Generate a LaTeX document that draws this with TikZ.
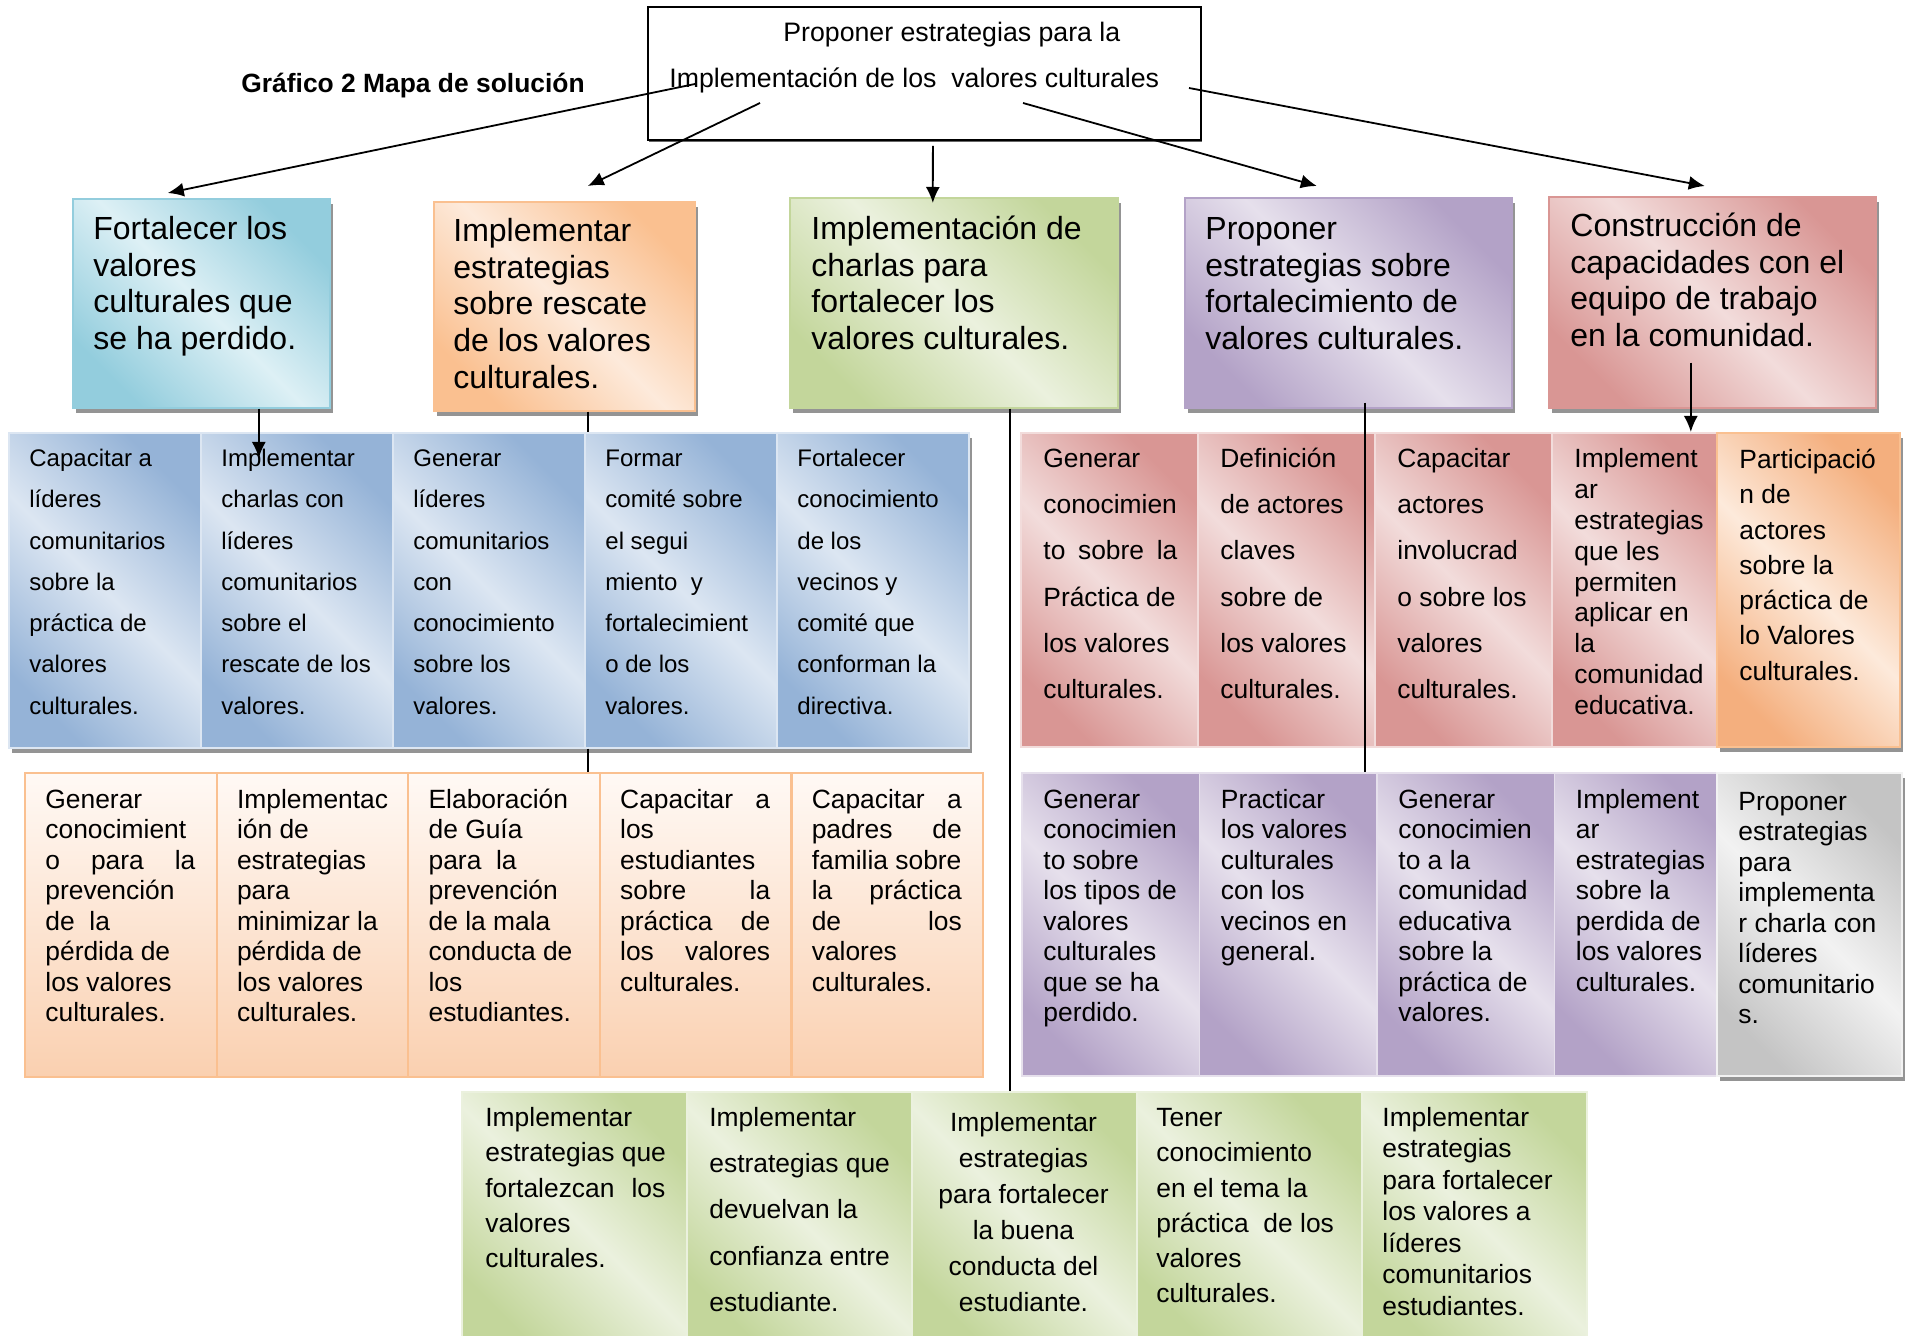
\documentclass[tikz,border=0pt]{standalone}
\usepackage{fontspec}
\setmainfont{Liberation Sans}
\usetikzlibrary{arrows.meta,shadows}

\definecolor{cyanD}{HTML}{93CDDD}
\definecolor{cyanL}{HTML}{DDF0F5}
\definecolor{orangeD}{HTML}{FAC090}
\definecolor{orangeL}{HTML}{FDEADB}
\definecolor{greenD}{HTML}{C3D69B}
\definecolor{greenL}{HTML}{EBF1DE}
\definecolor{purpleD}{HTML}{B3A2C7}
\definecolor{purpleL}{HTML}{E6E0EC}
\definecolor{redD}{HTML}{D99694}
\definecolor{redL}{HTML}{F2DCDB}
\definecolor{blueD}{HTML}{95B3D7}
\definecolor{blueL}{HTML}{DCE6F2}
\definecolor{grayD}{HTML}{C4C4C4}
\definecolor{grayL}{HTML}{F2F2F2}
\definecolor{peachD}{HTML}{FAD0B0}
\definecolor{peachL}{HTML}{FFF9F5}
\definecolor{peachB}{HTML}{FAC090}
\definecolor{tangD}{HTML}{F4AF7E}

\newcommand{\tstrut}{\rule{0pt}{1em}}
\newcommand{\jline}[2][75pt]{\makebox[#1][s]{#2}}

\tikzset{
  boxshadow/.style={drop shadow={shadow xshift=1.5pt,shadow yshift=-2.5pt,fill=black!42,opacity=1}},
  lvlone/.style 2 args={draw=#1, line width=0.8pt, top color=#1, bottom color=#1, middle color=#2,
    shading angle=-45, anchor=north west, inner sep=0pt, boxshadow},
  cell/.style 2 args={draw=#2, line width=0.8pt, top color=#1, bottom color=#1, middle color=#2,
    shading angle=-45, anchor=north west, inner sep=0pt},
  peachcell/.style={draw=peachB, line width=1.1pt, top color=peachL, bottom color=peachD,
    anchor=north west, inner sep=0pt},
  txt/.style={anchor=north west, inner sep=0pt, align=left},
  lvltxt/.style={txt, font=\fontsize{16}{18.35}\selectfont},
  rowtxt/.style={txt, font=\fontsize{13.2}{#1}\selectfont},
  conn/.style={line width=0.9pt}
}

\begin{document}
\begin{tikzpicture}[x=0.5pt,y=-0.5pt,>={Latex[length=8pt,width=7pt]}]
  \useasboundingbox (0,0) rectangle (1906,1336);

  \node[txt, font=\bfseries\fontsize{13.2}{15.8}\selectfont] (title) at (241,66) {\tstrut Gráfico 2 Mapa de solución};
  \node[draw, line width=0.9pt, fill=white, anchor=north west, inner sep=0pt, minimum width=276.5pt, minimum height=66.5pt,
    drop shadow={shadow xshift=0.5pt,shadow yshift=-1.3pt,fill=black!60,opacity=1}] (top) at (647,6) {};
  \node[txt, font=\fontsize{13.35}{23}\selectfont] (toptxt) at (669,14)
    {\tstrut\hspace*{57pt}Proponer estrategias para la\\Implementación de los\ \ valores culturales};

  \node[lvlone={cyanD}{cyanL}, minimum width=128.5pt, minimum height=104.5pt] (f1) at (72,198) {};
  \node[lvlone={orangeD}{orangeL}, minimum width=130.5pt, minimum height=104.5pt] (f2) at (433,201) {};
  \node[lvlone={greenD}{greenL}, minimum width=164pt, minimum height=105pt] (f3) at (789,197) {};
  \node[lvlone={purpleD}{purpleL}, minimum width=163.5pt, minimum height=105pt] (f4) at (1184,197) {};
  \node[lvlone={redD}{redL}, minimum width=163.5pt, minimum height=105.5pt] (f5) at (1548,196) {};
  \node[lvltxt] (ft1) at (93,207) {\tstrut Fortalecer los\\valores\\culturales que\\se ha perdido.};
  \node[lvltxt] (ft2) at (453,209) {\tstrut Implementar\\estrategias\\sobre rescate\\de los valores\\culturales.};
  \node[lvltxt] (ft3) at (811,207) {\tstrut Implementación de\\charlas para\\fortalecer los\\valores culturales.};
  \node[lvltxt] (ft4) at (1205,207) {\tstrut Proponer\\estrategias sobre\\fortalecimiento de\\valores culturales.};
  \node[lvltxt] (ft5) at (1570,204) {\tstrut Construcción de\\capacidades con el\\equipo de trabajo\\en la comunidad.};

  \foreach \t [count=\i] in {{Capacitar a\\líderes\\comunitarios\\sobre la\\práctica de\\valores\\culturales.},
      {Implementar\\charlas con\\líderes\\comunitarios\\sobre el\\rescate de los\\valores.},
      {Generar\\líderes\\comunitarios\\con\\conocimiento\\sobre los\\valores.},
      {Formar\\comité sobre\\el segui\\miento\ \ y\\fortalecimient\\o de los\\valores.},
      {Fortalecer\\conocimiento\\de los\\vecinos y\\comité que\\conforman la\\directiva.}}{
    \node[cell={blueD}{blueL}, boxshadow, minimum width=96pt, minimum height=157.5pt] (b\i) at ({8+192*(\i-1)},432) {};
    \node[txt, font=\fontsize{12}{20.65}\selectfont] (bt\i) at ({29+192*(\i-1)},442) {\tstrut\t};
  }

  \foreach \t/\ls [count=\i] in {{Generar\\conocimien\\\jline[67pt]{to sobre la}\\Práctica de\\los valores\\culturales.}/23.1,
      {Definición\\de actores\\claves\\sobre de\\los valores\\culturales.}/23.1,
      {Capacitar\\actores\\involucrad\\o sobre los\\valores\\culturales.}/23.1,
      {Implement\\ar\\estrategias\\que les\\permiten\\aplicar en\\la\\comunidad\\educativa.}/15.45}{
    \node[cell={redD}{redL}, minimum width=89pt, minimum height=157pt] (r\i) at ({1020+177*(\i-1)},432) {};
    \node[rowtxt=\ls] (rt\i) at ({1043+177*(\i-1)},440.6) {\tstrut\t};
  }
  \node[cell={tangD}{orangeL}, draw=orangeD, boxshadow, minimum width=91.5pt, minimum height=157pt] (r5) at (1716,432) {};
  \node[rowtxt=17.65] (rt5) at (1739,441.6) {\tstrut Participació\\n de\\actores\\sobre la\\práctica de\\lo Valores\\culturales.};

  \foreach \t [count=\i] in {{Generar\\conocimient\\\jline{o para la}\\prevención\\de\ \ la\\pérdida de\\los valores\\culturales.},
      {Implementac\\ión de\\estrategias\\para\\minimizar la\\pérdida de\\los valores\\culturales.},
      {Elaboración\\de Guía\\para\ \ la\\prevención\\de la mala\\conducta de\\los\\estudiantes.},
      {\jline{Capacitar a}\\los\\estudiantes\\\jline{sobre la}\\\jline{práctica de}\\\jline{los valores}\\culturales.},
      {\jline{Capacitar a}\\\jline{padres de}\\familia sobre\\\jline{la práctica}\\\jline{de los}\\valores\\culturales.}}{
    \node[peachcell, minimum width=95.8pt, minimum height=152pt] (p\i) at ({24+191.6*(\i-1)},772) {};
    \node[rowtxt=15.25] (pt\i) at ({45+191.6*(\i-1)},781.6) {\tstrut\t};
  }

  \foreach \t [count=\i] in {{Generar\\conocimien\\to sobre\\los tipos de\\valores\\culturales\\que se ha\\perdido.},
      {Practicar\\los valores\\culturales\\con los\\vecinos en\\general.},
      {Generar\\conocimien\\to a la\\comunidad\\educativa\\sobre la\\práctica de\\valores.},
      {Implement\\ar\\estrategias\\sobre la\\perdida de\\los valores\\culturales.}}{
    \node[cell={purpleD}{purpleL}, minimum width=89pt, minimum height=151.5pt] (q\i) at ({1021+177.5*(\i-1)},772) {};
    \node[rowtxt=15.25] (qt\i) at ({1043+177.5*(\i-1)},781.6) {\tstrut\t};
  }
  \node[cell={grayD}{grayL}, boxshadow, minimum width=92.5pt, minimum height=151.5pt] (q5) at (1716,772) {};
  \node[rowtxt=15.25] (qt5) at (1738,783.6) {\tstrut Proponer\\estrategias\\para\\implementa\\r charla con\\líderes\\comunitario\\s.};

  \foreach \i in {1,...,5}{
    \node[cell={greenD}{greenL}, minimum width=112.5pt, minimum height=127pt] (g\i) at ({461+225*(\i-1)},1091) {};
  }
  \node[rowtxt=17.65] (gt1) at (485,1099.6) {\tstrut Implementar\\estrategias que\\\jline[90pt]{fortalezcan los}\\valores\\culturales.};
  \node[rowtxt=23.1] (gt2) at (709,1099.6) {\tstrut Implementar\\estrategias que\\devuelvan la\\confianza entre\\estudiante.};
  \node[rowtxt=18, anchor=north, align=center] (gt3) at (1023.5,1104.6) {\tstrut Implementar\\estrategias\\para fortalecer\\la buena\\conducta del\\estudiante.};
  \node[rowtxt=17.65] (gt4) at (1156,1099.6) {\tstrut Tener\\conocimiento\\en el tema la\\práctica\ \ de los\\valores\\culturales.};
  \node[rowtxt=15.75] (gt5) at (1382,1099.6) {\tstrut Implementar\\estrategias\\para fortalecer\\los valores a\\líderes\\comunitarios\\estudiantes.};

  \coordinate (s1) at (695,84);
  \coordinate (s2) at (760,103);
  \coordinate (s4) at (1023,103);
  \coordinate (s5) at (1189,88);
  \draw[conn,->] (s1) -- ([xshift=-16.75pt,yshift=2.5pt]f1.north);
  \draw[conn,->] (s2) -- ([xshift=11.75pt,yshift=7.5pt]f2.north);
  \draw[conn,->] ([xshift=4.25pt,yshift=-2.5pt]top.south) -- ([xshift=-10.5pt,yshift=-3pt]f3.north);
  \draw[conn,->] (s4) -- ([xshift=-15.75pt,yshift=5.5pt]f4.north);
  \draw[conn,->] (s5) -- ([xshift=-3.75pt,yshift=5pt]f5.north);

  \draw[conn,->] ([xshift=28.75pt]f1.south) -- ([xshift=-19pt,yshift=-13pt]b2.north);
  \coordinate (k2) at ([xshift=11.75pt]f2.south);
  \draw[conn] (k2) -- (k2 |- b4.north);
  \draw[conn] (k2 |- b4.south) -- (k2 |- p3.north);
  \coordinate (k3) at ([xshift=28pt]f3.south);
  \draw[conn] (k3) -- (k3 |- g3.north);
  \coordinate (k4) at ([xshift=8.25pt,yshift=3pt]f4.south);
  \draw[conn] (k4) -- (k4 |- q2.north);
  \coordinate (k5) at ([xshift=-10.75pt,yshift=23pt]f5.south);
  \draw[conn,->] (k5) -- (k5 |- r4.north);
\end{tikzpicture}
\end{document}
